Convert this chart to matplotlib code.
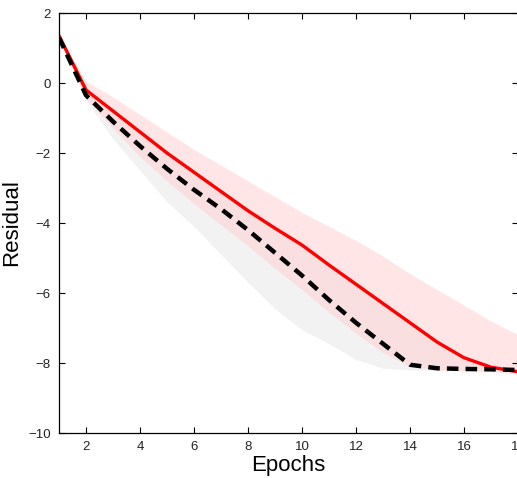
import numpy as np
import matplotlib
matplotlib.use('Agg')
import matplotlib.pyplot as plt

# epochs and curves
epochs = np.arange(1, 19)
red_mean = [1.35, -0.2, -0.8, -1.4, -2.0, -2.55, -3.1, -3.65, -4.15, -4.63,
            -5.2, -5.75, -6.3, -6.85, -7.4, -7.85, -8.12, -8.25]
red_upper = [1.35, 0.05, -0.4, -0.9, -1.4, -1.9, -2.35, -2.8, -3.25, -3.7,
             -4.1, -4.5, -4.95, -5.45, -5.9, -6.35, -6.8, -7.2]
red_lower = [1.3, -0.45, -1.3, -2.1, -2.8, -3.45, -4.05, -4.65, -5.3, -5.9,
             -6.55, -7.15, -7.7, -8.1, -8.2, -8.22, -8.25, -8.3]

black_mean = [1.3, -0.35, -1.1, -1.8, -2.45, -3.05, -3.6, -4.2, -4.85, -5.5,
              -6.2, -6.85, -7.45, -8.05, -8.15, -8.17, -8.18, -8.2]
black_upper = [1.35, -0.15, -0.75, -1.35, -1.95, -2.5, -3.05, -3.6, -4.1, -4.6,
               -5.15, -5.7, -6.3, -6.9, -7.45, -7.9, -8.1, -8.2]
black_lower = [1.3, -0.5, -1.6, -2.5, -3.4, -4.1, -4.9, -5.7, -6.45, -7.05,
               -7.45, -7.9, -8.15, -8.2, -8.22, -8.22, -8.22, -8.22]

xticks = [2, 4, 6, 8, 10, 12, 14, 16, 18]
yticks = [-10, -8, -6, -4, -2, 0, 2]

plt.rcParams['font.family'] = ['Liberation Sans', 'DejaVu Sans']

fig = plt.figure(figsize=(5.17, 4.78), dpi=100)
ax = fig.add_axes([59 / 517, 45 / 478, 459 / 517, 420 / 478])

ax.fill_between(epochs, black_lower, black_upper, color=(0.9, 0.9, 0.9),
                alpha=0.5, linewidth=0)
ax.fill_between(epochs, red_lower, red_upper, color=(1.0, 0.82, 0.82),
                alpha=0.55, linewidth=0)

ax.plot(epochs, red_mean, color='red', linewidth=2.4)
ax.plot(epochs, black_mean, color='black', linewidth=3.2, linestyle=(0, (2.6, 1.6)))

ax.set_xlim(1, 18)
ax.set_ylim(-10, 2)
ax.set_xticks(xticks)
ax.set_yticks(yticks)
ax.tick_params(direction='in', top=True, right=True, length=4, width=0.8,
               labelsize=9.5, pad=6, labelcolor='#222222')
for s in ax.spines.values():
    s.set_linewidth(0.9)

ax.set_xlabel('Epochs', fontsize=16, labelpad=1)
ax.set_ylabel('Residual', fontsize=16)
ax.yaxis.set_label_coords(-0.08, 0.5)

fig.savefig('out.png', dpi=100)
